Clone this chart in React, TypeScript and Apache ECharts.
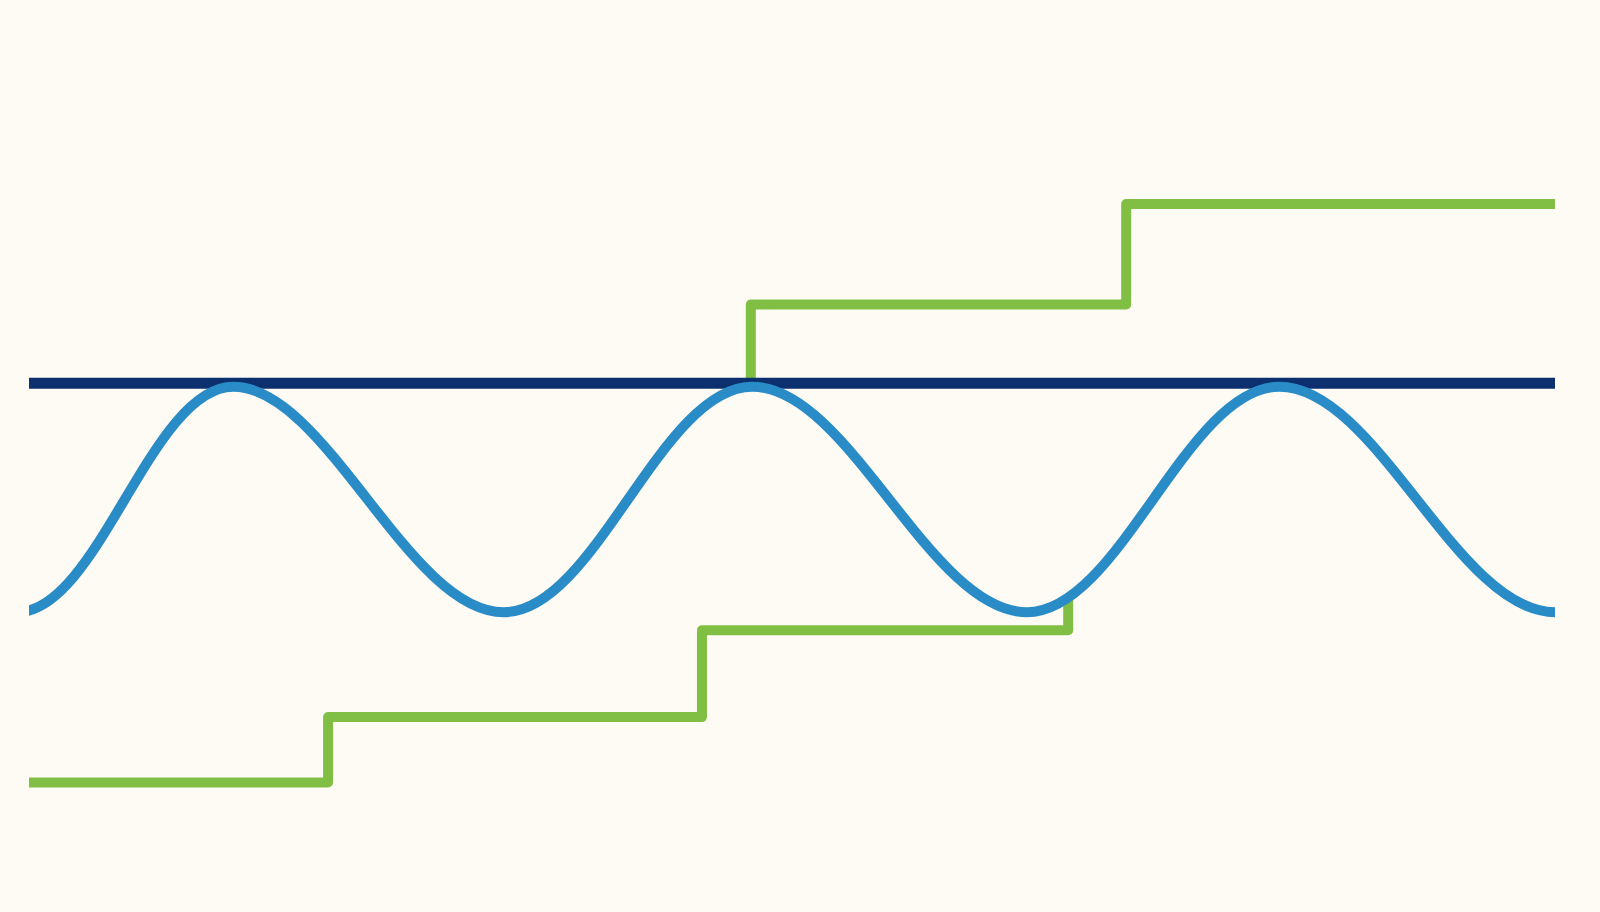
import { useEffect, useRef } from "react";
import * as echarts from "echarts";

// x runs 0..100 across the plot, y is in wave amplitude units.
// Wave turning points; the outer ones lie off the plot and get clipped away.
const waveX = [-17.8, -0.8, 13.39, 31.12, 47.39, 65.39, 81.93, 100, 117];
const waveY = [1.0, -1.0, 1.0, -1.0, 1.0, -1.0, 1.0, -1.0, 1.0];

const levelX = [0, 100];
const levelY = [1.03, 1.03];

const lowStepX = [0, 19.6, 44.1, 68.1];
const lowStepY = [-2.51, -1.93, -1.16, -0.86];

const highStepX = [47.3, 71.9, 100];
const highStepY = [1.03, 1.73, 2.62];

const pairs = (xs: number[], ys: number[]) => xs.map((x, i) => [x, ys[i]]);

const BG = "#fefbf5";
const WAVE_W = 10;
// the grid clip grows by half the line width, so the wave's grid is inset by that much
const PX_PER_UNIT = 1526 / 100;
const inset = WAVE_W / 2;

const App = () => {
  const chartRef = useRef<HTMLDivElement>(null);

  useEffect(() => {
    if (!chartRef.current) return;
    const chart = echarts.init(chartRef.current, null, { renderer: "svg" });

    const green = {
      color: "#80bf43",
      width: 10,
      join: "round" as const,
      cap: "butt" as const,
    };

    chart.setOption({
      animation: false,
      backgroundColor: BG,
      grid: [
        { left: 29, right: 45, top: 104.9, bottom: 17.9 },
        { left: 29 + inset, right: 45 + inset, top: 104.9, bottom: 17.9 },
      ],
      xAxis: [
        { type: "value", gridIndex: 0, min: 0, max: 100, show: false },
        {
          type: "value",
          gridIndex: 1,
          min: inset / PX_PER_UNIT,
          max: 100 - inset / PX_PER_UNIT,
          show: false,
        },
      ],
      yAxis: [
        { type: "value", gridIndex: 0, min: -3.5, max: 3.5, show: false },
        { type: "value", gridIndex: 1, min: -3.5, max: 3.5, show: false },
      ],
      series: [
        {
          type: "line",
          data: pairs(lowStepX, lowStepY),
          step: "end",
          symbol: "none",
          lineStyle: green,
          z: 1,
        },
        {
          type: "line",
          data: pairs(highStepX, highStepY),
          step: "start",
          symbol: "none",
          lineStyle: green,
          z: 1,
        },
        {
          type: "line",
          data: pairs(levelX, levelY),
          symbol: "none",
          lineStyle: { color: "#0c2f6e", width: 11 },
          z: 2,
        },
        {
          type: "line",
          xAxisIndex: 1,
          yAxisIndex: 1,
          data: pairs(waveX, waveY),
          smooth: 0.36,
          clip: true,
          symbol: "none",
          lineStyle: { color: "#2a8cc6", width: WAVE_W },
          z: 3,
        },
      ],
    });

    return () => {
      chart.dispose();
    };
  }, []);

  return (
    <div
      ref={chartRef}
      style={{
        position: "fixed",
        left: 0,
        top: 0,
        width: "100vw",
        height: "100vh",
        background: BG,
      }}
    />
  );
};

export default App;
